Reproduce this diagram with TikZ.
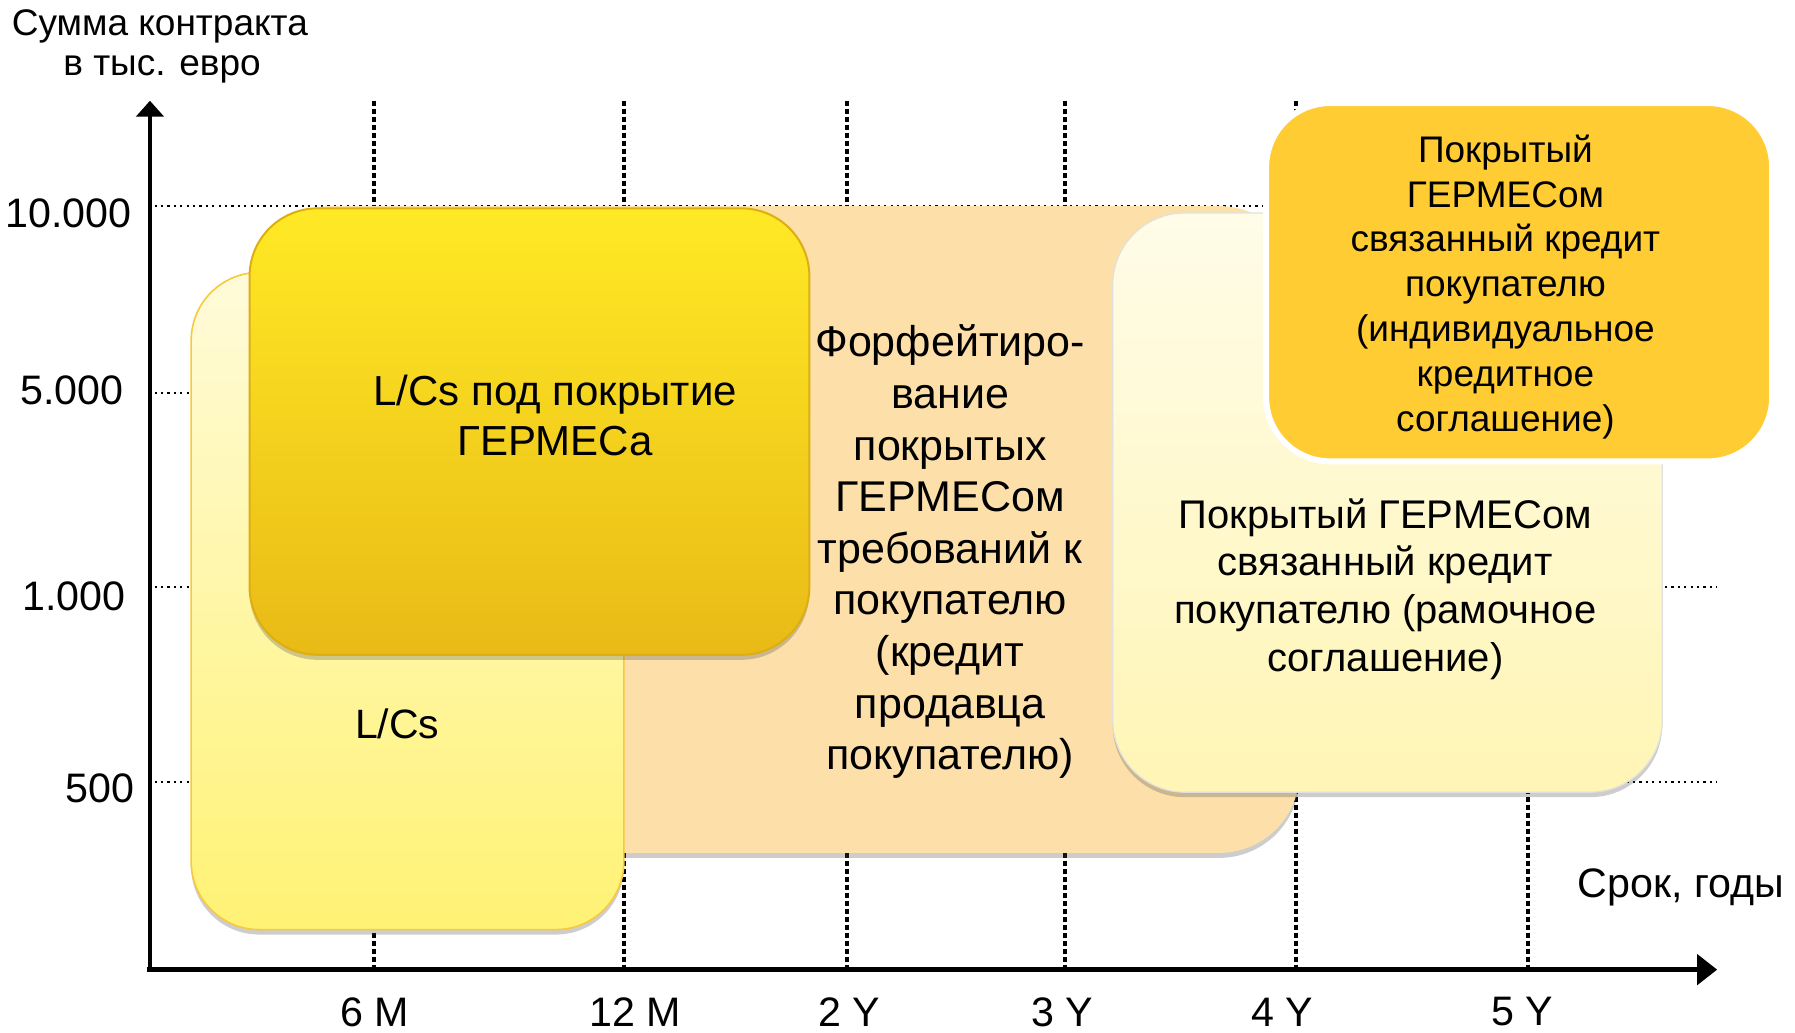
\documentclass[tikz,border=0pt]{standalone}
\usepackage{fontspec}
\setmainfont{Liberation Sans}
\usetikzlibrary{shadows,arrows.meta}
\definecolor{peach}{HTML}{FDE0A9}
\definecolor{lcstop}{HTML}{FFFBDA}
\definecolor{lcsbot}{HTML}{FFF274}
\definecolor{lcsedge}{HTML}{F8C93C}
\definecolor{hertop}{HTML}{FFE925}
\definecolor{herbot}{HTML}{E9BA16}
\definecolor{heredge}{HTML}{DDAE12}
\definecolor{fwtop}{HTML}{FFFCE8}
\definecolor{fwbot}{HTML}{FFF5B5}
\definecolor{indiv}{HTML}{FFCC33}
\begin{document}
\begin{tikzpicture}[x=0.5724pt,y=-0.5724pt,
  vgrid/.style={line width=2.1pt,dash pattern=on 2.4pt off 1.6pt},
  hgrid/.style={line width=1.1pt,dash pattern=on 1.1pt off 2.1pt},
  axisline/.style={line width=2.3pt},
  softshadow/.style={drop shadow={shadow xshift=0pt,shadow yshift=-2.5pt,opacity=0.28,fill=black!70}},
  lbl/.style={inner sep=0pt,font=\fontsize{20.6}{24}\selectfont},
  boxtext/.style={inner sep=0pt,align=center}]
\useasboundingbox (0,0) rectangle (1568,902);
% grid
\foreach \gx in {327,545,740,930,1132,1335} \draw[vgrid] (\gx,88) -- (\gx,845);
\foreach \gy in {180,343,513,683} \draw[hgrid] (135,\gy) -- (1500,\gy);
% forfeiting box
\path[fill=peach,rounded corners=40pt,softshadow] (220,180) rectangle (1135,745);
% L/Cs box
\shade[top color=lcstop,bottom color=lcsbot,draw=lcsedge,line width=0.8pt,rounded corners=34pt,softshadow] (167,238) rectangle (545,812);
% Hermes L/Cs box
\shade[top color=hertop,bottom color=herbot,draw=heredge,line width=1pt,rounded corners=34pt,softshadow] (218,182) rectangle (707,572);
% framework box
\shade[top color=fwtop,bottom color=fwbot,draw=black!12,line width=0.6pt,rounded corners=36pt,softshadow] (972,186) rectangle (1452,692);
% individual box
\path[fill=indiv,draw=white,line width=3pt,rounded corners=32pt,drop shadow={shadow xshift=-1pt,shadow yshift=-1pt,opacity=0.15}] (1106,90) rectangle (1548,403);
% axes
\draw[axisline,-{Triangle[width=13.7pt,length=8pt]}] (131,847) -- (131,88);
\draw[axisline,-{Triangle[width=15pt,length=10pt]}] (128,847) -- (1500,847);
% axis titles
\node[lbl,anchor=west,font=\fontsize{18.5}{22}\selectfont] (ytitle) at (10,23) {Сумма контракта};
\node[lbl,anchor=west,font=\fontsize{18.5}{22}\selectfont] (yunit) at (55,61) {в тыс. евро};
\node[lbl,anchor=west] (xtitle) at (1378,775) {Срок, годы};
% y labels
\node[lbl,anchor=east] (y10000) at (115,186) {10.000};
\node[lbl,anchor=east] (y5000) at (108,341) {5.000};
\node[lbl,anchor=east] (y1000) at (110,521) {1.000};
\node[lbl,anchor=east] (y500) at (118,689) {500};
% x labels
\node[lbl] (x6m) at (327,884) {6 M};
\node[lbl] (x12m) at (555,884) {12 M};
\node[lbl] (x2y) at (742,884) {2 Y};
\node[lbl] (x3y) at (928,884) {3 Y};
\node[lbl] (x4y) at (1120,884) {4 Y};
\node[lbl] (x5y) at (1330,884) {5 Y};
% box texts
\node[boxtext,font=\fontsize{20.5}{24}\selectfont] (lcs) at (347,632) {L/Cs};
\node[boxtext,font=\fontsize{21}{25.2}\selectfont] (herm) at (485,363) {L/Cs под покрытие\\ГЕРМЕСа};
\node[boxtext,font=\fontsize{21.5}{25.8}\selectfont] (forf) at (830,482) {Форфейтиро-\\вание\\покрытых\\ГЕРМЕСом\\требований к\\покупателю\\(кредит\\продавца\\покупателю)};
\node[boxtext,font=\fontsize{20}{23.9}\selectfont] (frame) at (1210,514.5) {Покрытый ГЕРМЕСом\\связанный кредит\\покупателю (рамочное\\соглашение)};
\node[boxtext,font=\fontsize{18.5}{22.4}\selectfont] (indtext) at (1315,250.5) {Покрытый\\ГЕРМЕСом\\связанный кредит\\покупателю\\(индивидуальное\\кредитное\\соглашение)};
\end{tikzpicture}
\end{document}
